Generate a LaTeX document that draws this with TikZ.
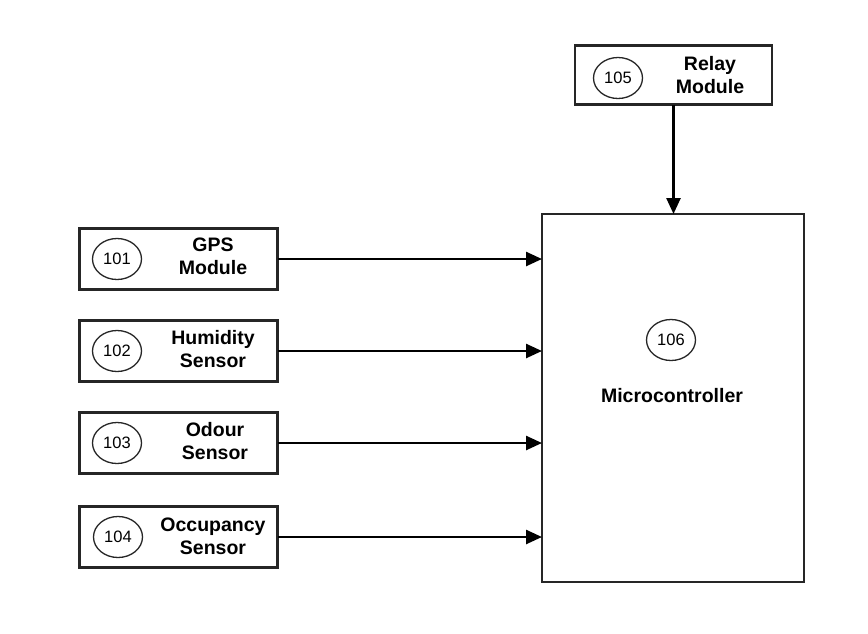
\documentclass[tikz,border=0pt]{standalone}
\usepackage{fontspec}
\setmainfont{Liberation Sans}
\usetikzlibrary{arrows.meta,shapes.geometric}
\tikzset{
  blk/.style={draw=black!85, line width=2.8pt, inner sep=0pt, outer sep=0pt, fill=white},
  num/.style={draw=black!85, ellipse, line width=1.3pt, minimum width=49pt, minimum height=41pt, inner sep=0pt, font=\fontsize{16.5}{19}\selectfont},
  lbl/.style={align=center, font=\fontsize{19.5}{23}\selectfont\bfseries, inner sep=0pt},
  conn/.style={line width=2.5pt, -{Triangle[length=16pt,width=14pt]}}
}
\begin{document}
\begin{tikzpicture}[x=1pt,y=-1pt]
\useasboundingbox[fill=white] (0,0) rectangle (868,633);
% boxes
\node[blk, minimum width=198pt, minimum height=61pt] (gps) at (178.5,259) {};
\node[blk, minimum width=198pt, minimum height=61pt] (hum) at (178.5,351) {};
\node[blk, minimum width=198pt, minimum height=61pt] (odo) at (178.5,443) {};
\node[blk, minimum width=198pt, minimum height=61pt] (occ) at (178.5,537) {};
\node[blk, minimum width=197pt, minimum height=59pt] (rel) at (673.5,75) {};
\node[blk, minimum width=262pt, minimum height=368pt] (mc) at (673,398) {};
% numbers
\node[num] (n101) at (117,259) {101};
\node[num] (n102) at (117,351) {102};
\node[num] (n103) at (117,443) {103};
\node[num] (n104) at (118,537) {104};
\node[num] (n105) at (618,78) {105};
\node[num] (n106) at (671,340) {106};
% labels
\node[lbl] (tgps) at (213,256) {GPS\\Module};
\node[lbl] (thum) at (213,349) {Humidity\\Sensor};
\node[lbl] (todo) at (215,441) {Odour\\Sensor};
\node[lbl] (tocc) at (213,536) {Occupancy\\Sensor};
\node[lbl] (trel) at (710,75) {Relay\\Module};
\node[lbl] (tmc) at (672,396) {Microcontroller};
% connectors
\draw[conn] (gps.east) -- (gps.east -| mc.west);
\draw[conn] (hum.east) -- (hum.east -| mc.west);
\draw[conn] (odo.east) -- (odo.east -| mc.west);
\draw[conn] (occ.east) -- (occ.east -| mc.west);
\draw[conn] (rel.south) -- (rel.south |- mc.north);
\end{tikzpicture}
\end{document}
